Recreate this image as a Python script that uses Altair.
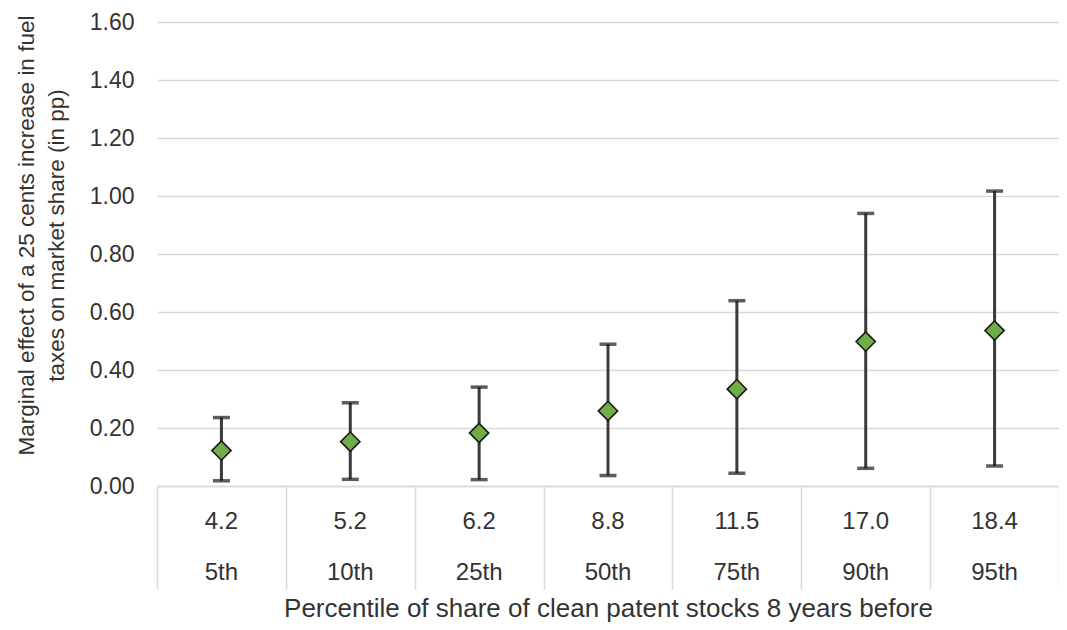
import altair as alt
import pandas as pd

percentiles = ["5th", "10th", "25th", "50th", "75th", "90th", "95th"]
shares = ["4.2", "5.2", "6.2", "8.8", "11.5", "17.0", "18.4"]
effect = [0.122, 0.153, 0.183, 0.259, 0.334, 0.498, 0.536]
lower = [0.018, 0.023, 0.022, 0.036, 0.044, 0.061, 0.069]
upper = [0.236, 0.287, 0.341, 0.489, 0.639, 0.940, 1.017]
y_ticks = [0.0, 0.2, 0.4, 0.6, 0.8, 1.0, 1.2, 1.4, 1.6]

df = pd.DataFrame({
    "pct": percentiles,
    "share": shares,
    "effect": effect,
    "lower": lower,
    "upper": upper,
})

FONT = "Liberation Sans"
TXT = "#333333"
GRID = "#d9d9d9"

x_enc = alt.X(
    "pct:N",
    sort=percentiles,
    bandPosition=0.5,
    scale=alt.Scale(type="band", paddingInner=0, paddingOuter=0),
    axis=alt.Axis(
        labels=False,
        tickBand="extent",
        tickSize=103,
        tickColor=GRID,
        tickWidth=1.5,
        domainColor=GRID,
        domainWidth=1.5,
        title="Percentile of share of clean patent stocks 8 years before",
        titleFont=FONT,
        titleFontSize=26,
        titleFontWeight="normal",
        titleColor=TXT,
        titleY=130,
        titleBaseline="alphabetic",
    ),
)


def y_enc(field):
    return alt.Y(
        f"{field}:Q",
        scale=alt.Scale(domain=[0, 1.6], nice=False),
        axis=alt.Axis(
            values=y_ticks,
            format=".2f",
            grid=True,
            gridColor=GRID,
            gridWidth=1.5,
            domain=False,
            ticks=False,
            labelFont=FONT,
            labelFontSize=23,
            labelColor=TXT,
            labelPadding=23,
            title=["Marginal effect of a 25 cents increase in fuel",
                   "taxes on market share (in pp)"],
            titleFont=FONT,
            titleFontSize=22.5,
            titleFontWeight="normal",
            titleColor=TXT,
            titleAngle=-90,
            titleX=-131,
            titleY=213,
            titleAlign="center",
            titleBaseline="middle",
            titleLineHeight=30,
        ),
    )


base = alt.Chart(df)

rules = base.mark_rule(color="#3a3a3a", strokeWidth=3).encode(
    x=x_enc, y=y_enc("lower"), y2="upper:Q"
)
caps_hi = base.mark_tick(color="#1a1a1a", size=17, thickness=3.5).encode(
    x=x_enc, y=y_enc("upper")
)
caps_lo = base.mark_tick(color="#1a1a1a", size=17, thickness=3.5).encode(
    x=x_enc, y=y_enc("lower")
)
points = base.mark_point(
    shape="diamond", filled=True, size=370, fill="#70ad47",
    stroke="#1a1a1a", strokeWidth=1.6, opacity=1
).encode(x=x_enc, y=y_enc("effect"))

row1 = base.mark_text(font=FONT, fontSize=24, color=TXT, baseline="alphabetic").encode(
    x=x_enc, y=alt.value(507), text="share:N"
)
row2 = base.mark_text(font=FONT, fontSize=24, color=TXT, baseline="alphabetic").encode(
    x=x_enc, y=alt.value(558), text="pct:N"
)

chart = alt.layer(rules, caps_hi, caps_lo, points, row1, row2).properties(
    width=902,
    height=464,
    autosize=alt.AutoSizeParams(type="none"),
    padding={"left": 149, "top": 14, "right": 0, "bottom": 136},
    background="white",
).configure_view(stroke=None)

chart.save("out.html", embed_options={"renderer": "svg", "actions": False})
